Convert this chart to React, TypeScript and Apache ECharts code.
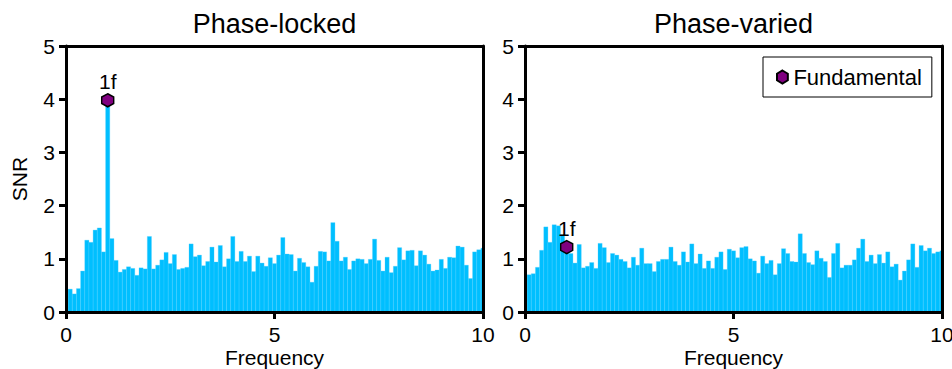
import React, { useEffect, useRef } from 'react';
import * as echarts from 'echarts';

// ---- data ----
const panelTitles = ['Phase-locked', 'Phase-varied'];
const xTickValues = [0, 5, 10];
const yTickValues = [0, 1, 2, 3, 4, 5];

const freqs = [
  0.1, 0.2, 0.3, 0.4, 0.5, 0.6, 0.7, 0.8, 0.9, 1.0,
  1.1, 1.2, 1.3, 1.4, 1.5, 1.6, 1.7, 1.8, 1.9, 2.0,
  2.1, 2.2, 2.3, 2.4, 2.5, 2.6, 2.7, 2.8, 2.9, 3.0,
  3.1, 3.2, 3.3, 3.4, 3.5, 3.6, 3.7, 3.8, 3.9, 4.0,
  4.1, 4.2, 4.3, 4.4, 4.5, 4.6, 4.7, 4.8, 4.9, 5.0,
  5.1, 5.2, 5.3, 5.4, 5.5, 5.6, 5.7, 5.8, 5.9, 6.0,
  6.1, 6.2, 6.3, 6.4, 6.5, 6.6, 6.7, 6.8, 6.9, 7.0,
  7.1, 7.2, 7.3, 7.4, 7.5, 7.6, 7.7, 7.8, 7.9, 8.0,
  8.1, 8.2, 8.3, 8.4, 8.5, 8.6, 8.7, 8.8, 8.9, 9.0,
  9.1, 9.2, 9.3, 9.4, 9.5, 9.6, 9.7, 9.8, 9.9, 10.0,
];

const snrLocked = [
  0.43, 0.34, 0.44, 0.77, 1.35, 1.31, 1.54, 1.58, 1.13, 3.98,
  1.38, 0.97, 0.75, 0.80, 0.85, 0.82, 0.69, 0.83, 0.81, 1.42,
  0.81, 0.88, 0.98, 1.12, 0.91, 1.08, 0.80, 0.82, 0.84, 1.28,
  1.04, 1.07, 0.87, 0.95, 1.22, 0.94, 1.25, 0.85, 1.00, 1.42,
  0.95, 1.14, 0.95, 1.05, 0.76, 1.05, 0.92, 0.86, 1.02, 0.91,
  1.07, 1.40, 1.09, 1.08, 0.77, 1.01, 0.93, 0.85, 0.56, 0.86,
  1.14, 1.13, 0.96, 1.68, 1.33, 0.96, 1.03, 0.80, 0.96, 1.00,
  0.99, 0.91, 0.99, 1.37, 0.97, 0.77, 1.03, 0.74, 0.86, 1.21,
  0.98, 1.15, 1.16, 0.87, 1.15, 1.07, 0.90, 0.77, 0.79, 0.99,
  0.82, 1.03, 1.02, 1.24, 1.22, 0.88, 0.63, 1.13, 1.17, 1.20,
];

const snrVaried = [
  0.70, 0.72, 0.84, 1.16, 1.60, 1.31, 1.64, 1.62, 1.45, 1.22,
  1.10, 0.92, 1.27, 0.83, 0.86, 0.93, 0.82, 1.29, 1.21, 0.93,
  1.10, 1.07, 0.99, 0.95, 0.83, 1.03, 0.88, 1.20, 0.91, 0.91,
  0.76, 0.95, 0.99, 0.99, 1.22, 0.95, 0.88, 1.13, 0.94, 1.28,
  0.91, 1.09, 0.82, 0.96, 0.82, 1.03, 1.13, 0.80, 1.18, 1.15,
  1.02, 1.21, 1.23, 1.00, 0.96, 0.73, 1.05, 0.91, 0.97, 0.70,
  0.91, 1.19, 1.10, 0.95, 0.94, 1.47, 1.10, 0.93, 0.89, 1.15,
  1.01, 0.95, 0.65, 1.10, 1.29, 0.83, 0.88, 0.88, 0.98, 1.20,
  1.37, 0.95, 1.07, 0.91, 1.08, 0.92, 1.13, 0.85, 0.90, 0.60,
  0.77, 0.98, 1.28, 0.84, 1.25, 1.15, 1.20, 1.10, 1.13, 1.15,
];

const fundamentalFreq = 1.0;
const fundamentalLocked = 3.98;
const fundamentalVaried = 1.22;
const fundamentalLabel = '1f';
const fundamentalName = 'Fundamental';

// ---- style ----
const FONT = "'Liberation Sans', Arial, Helvetica, sans-serif";
const BAR_COLOR = '#00BFFF';
const BIN = 0.1;
const HEX = 'path://M5,0L10,3L10,9L5,12L0,9L0,3Z';

export default function App() {
  const ref = useRef<HTMLDivElement>(null);

  useEffect(() => {
    if (!ref.current) return;
    const chart = echarts.init(ref.current, undefined, { renderer: 'svg' });

    const grids = [
      { left: 66, top: 46, width: 417, height: 266 },
      { left: 525, top: 46, width: 417, height: 266 },
    ];

    const lineStyle = { color: '#000', width: 3 };
    const labelStyle = { fontSize: 21, color: '#000', fontFamily: FONT };

    const xAxes: any[] = [];
    const yAxes: any[] = [];
    grids.forEach((_, i) => {
      xAxes.push({
        type: 'value', gridIndex: i, min: xTickValues[0], max: xTickValues[xTickValues.length - 1],
        interval: 5, position: 'bottom', z: 10,
        axisLine: { show: true, onZero: false, lineStyle },
        axisTick: { show: true, length: 7, lineStyle },
        axisLabel: { ...labelStyle, margin: 12 },
        splitLine: { show: false },
        name: 'Frequency', nameLocation: 'middle', nameGap: 35, nameMoveOverlap: false,
        nameTextStyle: labelStyle,
      });
      xAxes.push({
        type: 'value', gridIndex: i, min: 0, max: 10, position: 'top', z: 10,
        axisLine: { show: true, onZero: false, lineStyle },
        axisTick: { show: false }, axisLabel: { show: false }, splitLine: { show: false },
      });
      yAxes.push({
        type: 'value', gridIndex: i, min: yTickValues[0], max: yTickValues[yTickValues.length - 1],
        interval: 1, position: 'left', z: 10,
        axisLine: { show: true, onZero: false, lineStyle },
        axisTick: { show: true, length: 7, lineStyle },
        axisLabel: { ...labelStyle, margin: 11 },
        splitLine: { show: false },
        name: i === 0 ? 'SNR' : '', nameLocation: 'middle', nameGap: 36, nameMoveOverlap: false,
        nameTextStyle: labelStyle,
      });
      yAxes.push({
        type: 'value', gridIndex: i, min: 0, max: 5, position: 'right', z: 10,
        axisLine: { show: true, onZero: false, lineStyle },
        axisTick: { show: false }, axisLabel: { show: false }, splitLine: { show: false },
      });
    });

    const barSeries = (values: number[], i: number) => ({
      type: 'custom',
      xAxisIndex: i * 2,
      yAxisIndex: i * 2,
      clip: true,
      silent: true,
      encode: { x: 0, y: 1 },
      data: freqs.map((f, k) => [f, values[k]]),
      renderItem: (_p: any, api: any) => {
        const f = api.value(0) as number;
        const v = api.value(1) as number;
        const a = api.coord([f - BIN / 2, 0]);
        const b = api.coord([f + BIN / 2, v]);
        return {
          type: 'rect',
          shape: { x: a[0], y: b[1], width: b[0] - a[0], height: a[1] - b[1] },
          style: { fill: BAR_COLOR, stroke: '#4fd0ff', lineWidth: 0.3 },
        };
      },
    });

    const markerSeries = (val: number, i: number) => ({
      type: 'scatter',
      name: fundamentalName,
      xAxisIndex: i * 2,
      yAxisIndex: i * 2,
      z: 5,
      symbol: HEX,
      symbolSize: [12, 13],
      itemStyle: { color: '#800080', borderColor: '#000', borderWidth: 1.5, opacity: 1 },
      label: {
        show: true, position: 'top', distance: 1, formatter: fundamentalLabel,
        fontSize: 21, color: '#000', fontFamily: FONT,
      },
      data: [[fundamentalFreq, val]],
    });

    chart.setOption({
      animation: false,
      backgroundColor: '#fff',
      textStyle: { fontFamily: FONT },
      title: panelTitles.map((t, i) => ({
        text: t,
        left: grids[i].left + grids[i].width / 2,
        top: 10,
        textAlign: 'center',
        padding: 0,
        textStyle: { fontSize: 27, fontWeight: 'normal', color: '#000', fontFamily: FONT },
      })),
      legend: {
        data: [{ name: fundamentalName, icon: HEX }],
        left: 763,
        top: 57,
        orient: 'horizontal',
        padding: [9, 10, 9, 13],
        itemWidth: 12,
        itemHeight: 13,
        itemGap: 5,
        borderColor: '#000',
        borderWidth: 1,
        borderRadius: 0,
        backgroundColor: '#fff',
        textStyle: { fontSize: 22, color: '#000', fontFamily: FONT },
        selectedMode: false,
      },
      grid: grids.map((g) => ({ ...g, containLabel: false, outerBoundsMode: 'none' })),
      xAxis: xAxes,
      yAxis: yAxes,
      series: [
        barSeries(snrLocked, 0),
        barSeries(snrVaried, 1),
        markerSeries(fundamentalLocked, 0),
        markerSeries(fundamentalVaried, 1),
      ],
    });

    return () => chart.dispose();
  }, []);

  return (
    <div
      ref={ref}
      style={{ position: 'fixed', left: 0, top: 0, width: 952, height: 369, background: '#fff' }}
    />
  );
}
